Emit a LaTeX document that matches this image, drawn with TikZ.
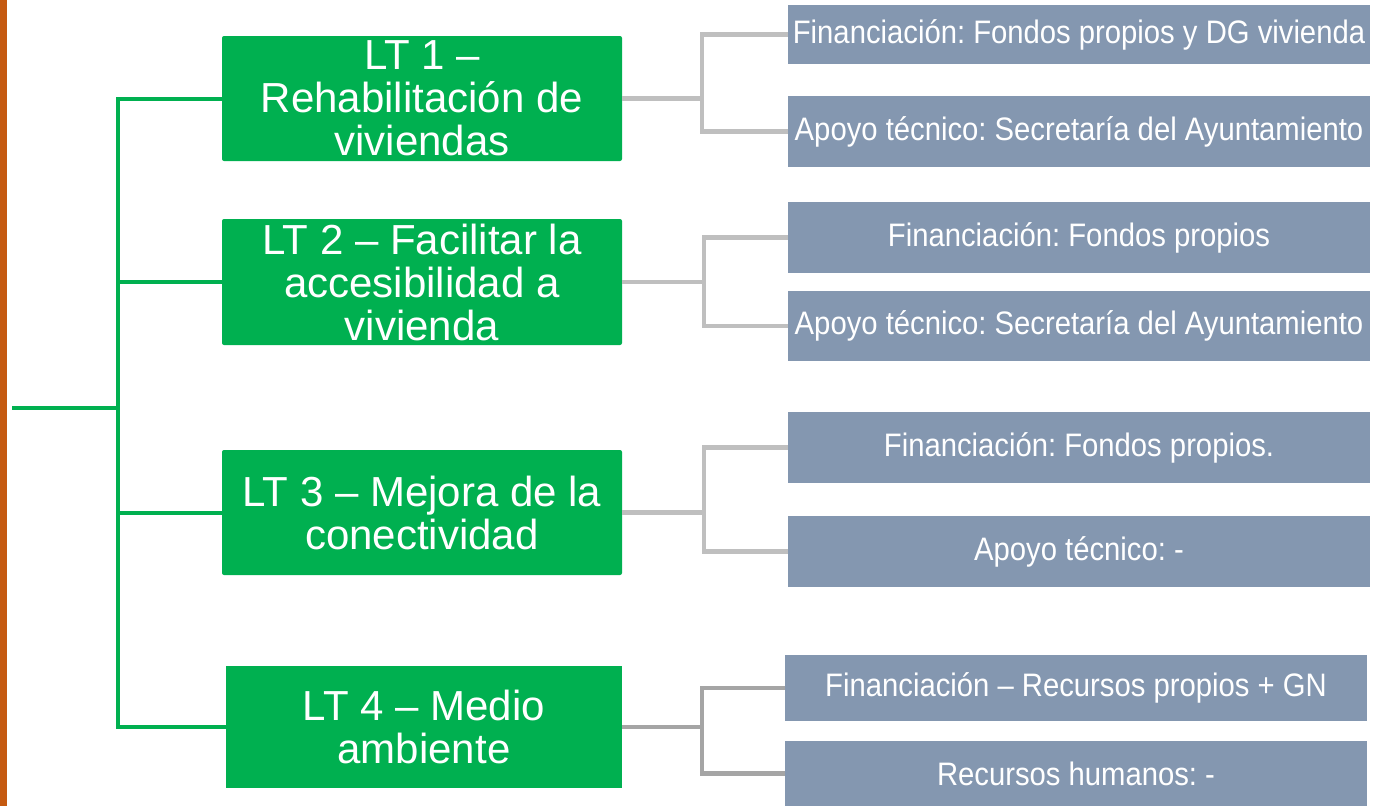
\documentclass[tikz,border=0pt]{standalone}
\usepackage{fontspec}
\setmainfont{Liberation Sans}
\newfontfamily\narrowfont[FakeStretch=0.9,Ligatures=TeX]{Liberation Sans}
\frenchspacing
\definecolor{ggreen}{HTML}{00B050}
\definecolor{slate}{HTML}{8497B0}
\definecolor{lgray}{HTML}{BFBFBF}
\definecolor{mgray}{HTML}{A5A5A5}
\definecolor{rust}{HTML}{C55A11}
\tikzset{
  gbox/.style={fill=ggreen, rounded corners=2pt, minimum width=400pt, inner sep=0pt, draw=none},
  gtext/.style={text=white, font=\fontsize{42}{43}\selectfont, align=center, inner sep=0pt},
  sbox/.style={fill=slate, minimum width=582pt, inner sep=0pt, text=white, font=\narrowfont\fontsize{32.5}{36}\selectfont},
  gline/.style={draw=ggreen, line width=4pt},
  sline/.style={draw=lgray, line width=4.5pt},
  dline/.style={draw=mgray, line width=4.5pt},
}
\begin{document}
\begin{tikzpicture}[x=1pt,y=-1pt]
\useasboundingbox (0,0) rectangle (1373,806);
\fill[white] (0,0) rectangle (1373,806);
\fill[rust] (0,0) rectangle (7,806);

% green boxes
\node[gbox, minimum height=125pt] (LT1) at (422,98.5) {};
\node[gtext] (T1) at (LT1) {LT 1 –\\Rehabilitación de\\viviendas};
\node[gbox, minimum height=126pt] (LT2) at (422,282) {};
\node[gtext] (T2) at (LT2) {LT 2 – Facilitar la\\accesibilidad a\\vivienda};
\node[gbox, minimum height=125pt] (LT3) at (422,512.5) {};
\node[gtext] (T3) at (LT3) {LT 3 – Mejora de la\\conectividad};
\node[gbox, rounded corners=0pt, minimum width=396pt, minimum height=122pt] (LT4) at (424,727) {};
\node[gtext] (T4) at (LT4) {LT 4 – Medio\\ambiente};

% slate boxes
\node[sbox, minimum height=59pt] (R1) at (1079,34.5) {Financiación: Fondos propios y DG vivienda};
\node[sbox, minimum height=71pt] (R2) at (1079,131.5) {Apoyo técnico: Secretaría del Ayuntamiento};
\node[sbox, minimum height=71pt] (R3) at (1079,237.5) {Financiación: Fondos propios};
\node[sbox, minimum height=70pt] (R4) at (1079,326) {Apoyo técnico: Secretaría del Ayuntamiento};
\node[sbox, minimum height=71pt] (R5) at (1079,447.5) {Financiación: Fondos propios.};
\node[sbox, minimum height=71pt] (R6) at (1079,551.5) {Apoyo técnico: -};
\node[sbox, minimum height=66pt] (R7) at (1076,688) {Financiación – Recursos propios + GN};
\node[sbox, minimum height=65pt] (R8) at (1076,773.5) {Recursos humanos: -};

% green tree
\coordinate (root) at (12,408);
\coordinate (trunk) at (118,408);
\draw[gline] (root) -- (trunk);
\draw[gline] (LT1.west) -| (trunk);
\draw[gline] (LT2.west) -| (trunk);
\draw[gline] (LT3.west) -| (trunk);
\draw[gline] (LT4.west) -| (trunk);

% gray connectors
\draw[sline] (LT1.east) -- ++(80,0) coordinate (j1) |- (R1.west);
\draw[sline] (j1) |- (R2.west);
\draw[sline] (LT2.east) -- ++(82,0) coordinate (j2) |- (R3.west);
\draw[sline] (j2) |- (R4.west);
\draw[sline] (LT3.east) -- ++(82,0) coordinate (j3) |- (R5.west);
\draw[sline] (j3) |- (R6.west);
\draw[dline] (LT4.east) -- ++(80,0) coordinate (j4) |- (R7.west);
\draw[dline] (j4) |- (R8.west);
\end{tikzpicture}
\end{document}
